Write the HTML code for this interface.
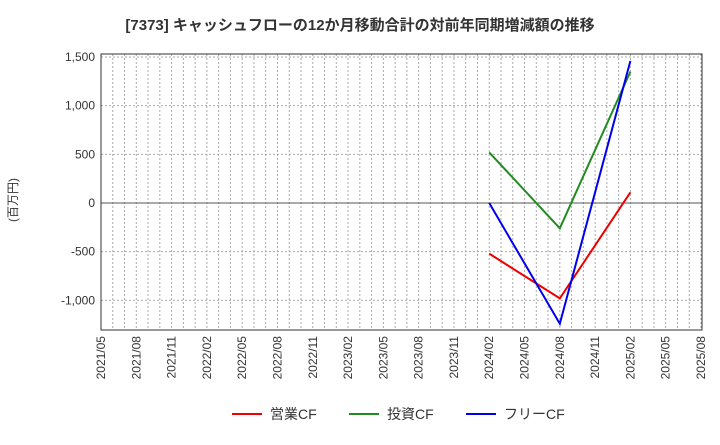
<!DOCTYPE html>
<html><head><meta charset="utf-8"><style>
body{margin:0;background:#fff;font-family:"Liberation Sans","Noto Sans CJK JP",sans-serif;}
</style></head><body>
<svg id="c" width="720" height="440" xmlns="http://www.w3.org/2000/svg">
<text x="360" y="30" text-anchor="middle" font-size="15" font-weight="bold" fill="#333">[7373]  キャッシュフローの12か月移動合計の対前年同期増減額の推移</text>
<text transform="translate(17,200) rotate(-90)" text-anchor="middle" font-size="12" fill="#333">(百万円)</text>
<g id="grid"></g><g id="axes"></g><g id="series"></g>
<g>
<line x1="232" y1="414" x2="262" y2="414" stroke="#e00" stroke-width="2"/><text x="270" y="419" font-size="14" fill="#333">営業CF</text>
<line x1="349" y1="414" x2="379" y2="414" stroke="#228b22" stroke-width="2"/><text x="387" y="419" font-size="14" fill="#333">投資CF</text>
<line x1="466" y1="414" x2="496" y2="414" stroke="#00e" stroke-width="2"/><text x="504" y="419" font-size="14" fill="#333">フリーCF</text>
</g>
</svg>
<script>
const xLabels=["2021/05","2021/08","2021/11","2022/02","2022/05","2022/08","2022/11","2023/02","2023/05","2023/08","2023/11","2024/02","2024/05","2024/08","2024/11","2025/02","2025/05","2025/08"];
const yTicks=[1500,1000,500,0,-500,-1000];
const pointMonths=["2024/02","2024/08","2025/02"];
const operatingCF=[-520,-980,110];
const investingCF=[520,-260,1350];
const freeCF=[0,-1240,1460];
const L=101,R=702,T=54,B=330;
function monthIdx(s){const[y,m]=s.split("/").map(Number);return (y-2021)*12+m-5;}
const totalM=monthIdx("2025/08");
function xs(s){return L+(R-1-L)*monthIdx(s)/totalM;}
function ys(v){return 203-v*(203-57)/1500;}
const NS="http://www.w3.org/2000/svg";
function mk(p,t,a){const e=document.createElementNS(NS,t);for(const k in a)e.setAttribute(k,a[k]);document.getElementById(p).appendChild(e);return e;}
for(let m=0;m<=totalM;m++){const x=L+(R-1-L)*m/totalM;
const g=mk("grid","line",{x1:x,x2:x,y1:T,y2:B,stroke:"#aaa","stroke-dasharray":"2,2","stroke-width":1});

}
yTicks.forEach(v=>{const y=ys(v);
const g=mk("grid","line",{x1:L,x2:R,y1:y,y2:y,stroke:v===0?"#555":"#aaa","stroke-dasharray":v===0?"none":"2,2","stroke-width":1});


const t=mk("axes","text",{x:L-6,y:y+4,"text-anchor":"end","font-size":12,fill:"#333"});t.textContent=v.toLocaleString("en-US");

});
const f=mk("axes","rect",{x:L,y:T,width:R-L,height:B-T,fill:"none",stroke:"#333","stroke-width":1});


xLabels.forEach(s=>{const x=xs(s);const t=mk("axes","text",{transform:`translate(${x+4},${B+6}) rotate(-90)`,"text-anchor":"end","font-size":12,fill:"#333"});t.textContent=s;

});
[[operatingCF,"#e00","operating-cf-line"],[investingCF,"#228b22","investing-cf-line"],[freeCF,"#00e","free-cf-line"]].forEach(([d,c,n])=>{
const p=mk("series","polyline",{points:d.map((v,i)=>xs(pointMonths[i])+","+ys(v)).join(" "),fill:"none",stroke:c,"stroke-width":2});

});
</script>
</body></html>
